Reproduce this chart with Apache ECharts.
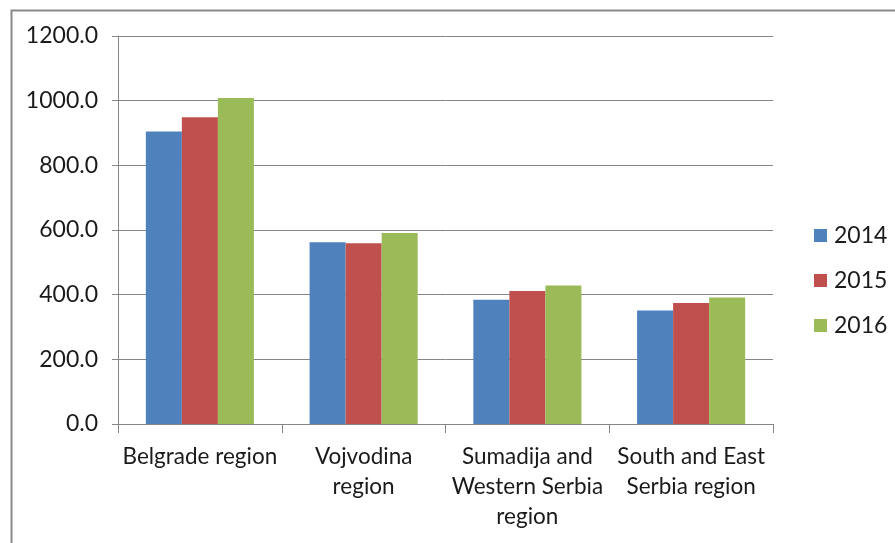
<!DOCTYPE html>
<html>
<head>
<meta charset="utf-8">
<script src="https://cdn.jsdelivr.net/npm/echarts@6/dist/echarts.min.js"></script>
<style>html,body{margin:0;padding:0;background:#fff;}#c{width:895px;height:543px;}</style>
</head>
<body>
<div id="c"></div>
<script>
const categories = ['Belgrade region', 'Vojvodina\nregion', 'Sumadija and\nWestern Serbia\nregion', 'South and East\nSerbia region'];
const years = ['2014', '2015', '2016'];
const values2014 = [905, 562, 384, 351];
const values2015 = [949, 559, 411, 374];
const values2016 = [1008, 591, 428, 391];
const yTicks = [0, 200, 400, 600, 800, 1000, 1200];
const colors = ['#4F81BD', '#C0504D', '#9BBB59'];
const FONT = 'Lato';

const chart = echarts.init(document.getElementById('c'), null, {renderer: 'canvas'});
const seriesData = [values2014, values2015, values2016];
chart.setOption({
  animation: false,
  backgroundColor: '#fff',
  color: colors,
  graphic: [{
    type: 'rect', left: 9, top: 8, shape: {width: 1000, height: 1000},
    style: {fill: 'none', stroke: '#8a8a8a', lineWidth: 2}, silent: true
  }],
  grid: {left: 118, right: 122, top: 36, bottom: 119, containLabel: false},
  legend: {
    orient: 'vertical', left: 809, top: 219, itemGap: 22,
    itemWidth: 13, itemHeight: 13, icon: 'rect',
    textStyle: {fontFamily: FONT, fontSize: 23, color: '#1a1a1a', padding: [0, 0, 0, 2]},
    data: years
  },
  xAxis: {
    type: 'category', data: categories,
    axisLine: {lineStyle: {color: '#868686', width: 1}},
    axisTick: {show: true, length: 9, lineStyle: {color: '#868686'}},
    axisLabel: {fontFamily: FONT, fontSize: 22.5, color: '#1a1a1a', lineHeight: 30, margin: 18, interval: 0}
  },
  yAxis: {
    type: 'value', min: yTicks[0], max: yTicks[yTicks.length - 1], interval: 200,
    axisLine: {show: true, lineStyle: {color: '#868686'}},
    axisTick: {show: true, length: 6, lineStyle: {color: '#868686'}},
    splitLine: {lineStyle: {color: '#868686', width: 1}},
    axisLabel: {fontFamily: FONT, fontSize: 23, color: '#1a1a1a', margin: 20,
      formatter: v => v.toFixed(1)}
  },
  series: years.map((y, i) => ({
    name: y, type: 'bar', data: seriesData[i],
    barGap: '0%', barCategoryGap: '34%',
    itemStyle: {color: colors[i]}
  }))
});
</script>
</body>
</html>
